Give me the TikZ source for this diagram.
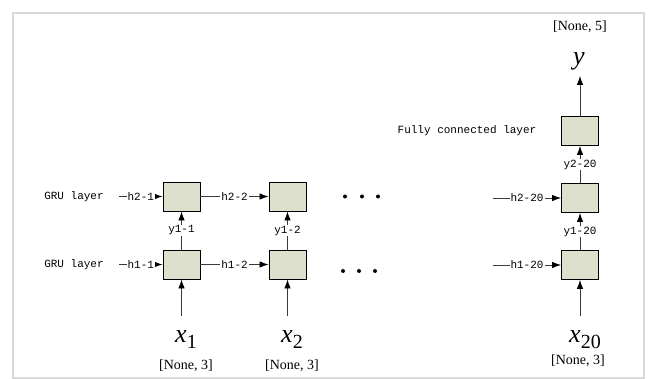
\documentclass[tikz,border=0pt]{standalone}
\usepackage{fontspec}
\setmainfont{Liberation Serif}
\newfontfamily\monof{Liberation Mono}
\usetikzlibrary{arrows.meta}
\definecolor{boxfill}{HTML}{DDE0CC}
\definecolor{framegrey}{HTML}{D9D9D9}
\definecolor{linegrey}{HTML}{3A3A3A}
\tikzset{
  cell/.style={draw=black, fill=boxfill, line width=0.9pt, minimum width=37pt, minimum height=29pt, inner sep=0pt},
  conn/.style={draw=linegrey, line width=0.8pt, -{Latex[length=9pt,width=6.5pt,color=black]}},
  edgelab/.style={font=\monof\fontsize{11}{12}\selectfont, fill=white, inner sep=1pt},
  layertxt/.style={font=\monof\fontsize{11}{12}\selectfont, inner sep=0pt},
  dimtxt/.style={font=\fontsize{14}{16}\selectfont, inner sep=0pt},
  vartxt/.style={font=\fontsize{26}{28}\selectfont\itshape, inner sep=0pt},
  dot/.style={fill=black, circle, inner sep=0pt, minimum size=4pt},
}
\begin{document}
\begin{tikzpicture}[x=1pt,y=-1pt]
\useasboundingbox (0,0) rectangle (648,379);
\draw[framegrey, line width=1.5pt] (13,13) rectangle (644,378);

% cells
\node[cell] (b11) at (181.5,264.5) {};
\node[cell] (b21) at (181.5,196.5) {};
\node[cell] (b12) at (287.5,264.5) {};
\node[cell] (b22) at (287.5,196.5) {};
\node[cell] (b1n) at (580,265) {};
\node[cell] (b2n) at (580,198) {};
\node[cell] (fc)  at (580,131) {};

% layer texts
\node[layertxt] (g2) at (74,196.5) {GRU layer};
\node[layertxt] (g1) at (74,265) {GRU layer};
\node[layertxt] (fct) at (467,131) {Fully connected layer};

% free ends
\coordinate (s21) at (119,196.5);
\coordinate (s11) at (119,264.5);
\coordinate (s2n) at (493,198);
\coordinate (s1n) at (493,265);
\coordinate (in1) at (181.5,316);
\coordinate (in2) at (287.5,316);
\coordinate (inn) at (580,316);

% horizontal connectors
\draw[conn] (s21) -- node[edgelab]{h2-1} (b21);
\draw[conn] (b21) -- node[edgelab]{h2-2} (b22);
\draw[conn] (s11) -- node[edgelab]{h1-1} (b11);
\draw[conn] (b11) -- node[edgelab]{h1-2} (b12);
\draw[conn] (s2n) -- node[edgelab]{h2-20} (b2n);
\draw[conn] (s1n) -- node[edgelab]{h1-20} (b1n);

% vertical connectors
\draw[conn] (b11) -- node[edgelab]{y1-1} (b21);
\draw[conn] (b12) -- node[edgelab]{y1-2} (b22);
\draw[conn] (b1n) -- node[edgelab]{y1-20} (b2n);
\draw[conn] (b2n) -- node[edgelab]{y2-20} (fc);

% inputs
\node[vartxt, anchor=base] (x1) at (186,342) {x\raisebox{-6pt}{\fontsize{20}{22}\selectfont\upshape 1}};
\node[vartxt, anchor=base] (x2) at (292,342) {x\raisebox{-6pt}{\fontsize{20}{22}\selectfont\upshape 2}};
\node[vartxt, anchor=base] (xn) at (585,342) {x\raisebox{-6pt}{\fontsize{20}{22}\selectfont\upshape 20}};
\node[dimtxt] (d1) at (186,366) {[None, 3]};
\node[dimtxt] (d2) at (292,366) {[None, 3]};
\node[dimtxt] (dn) at (578,361) {[None, 3]};
\draw[conn] (in1) -- (b11);
\draw[conn] (in2) -- (b12);
\draw[conn] (inn) -- (b1n);

% output
\node[vartxt] (yv) at (579,61) {y};
\node[dimtxt] (d5) at (580,27) {[None, 5]};
\draw[conn, shorten >=6pt] (fc.north) -- (fc.north |- yv.south);

% dots
\foreach \i/\xx in {1/345,2/362,3/378}{\node[dot] (u\i) at (\xx,196.5) {};}
\foreach \i/\xx in {1/343,2/359,3/375}{\node[dot] (l\i) at (\xx,271) {};}
\end{tikzpicture}
\end{document}
